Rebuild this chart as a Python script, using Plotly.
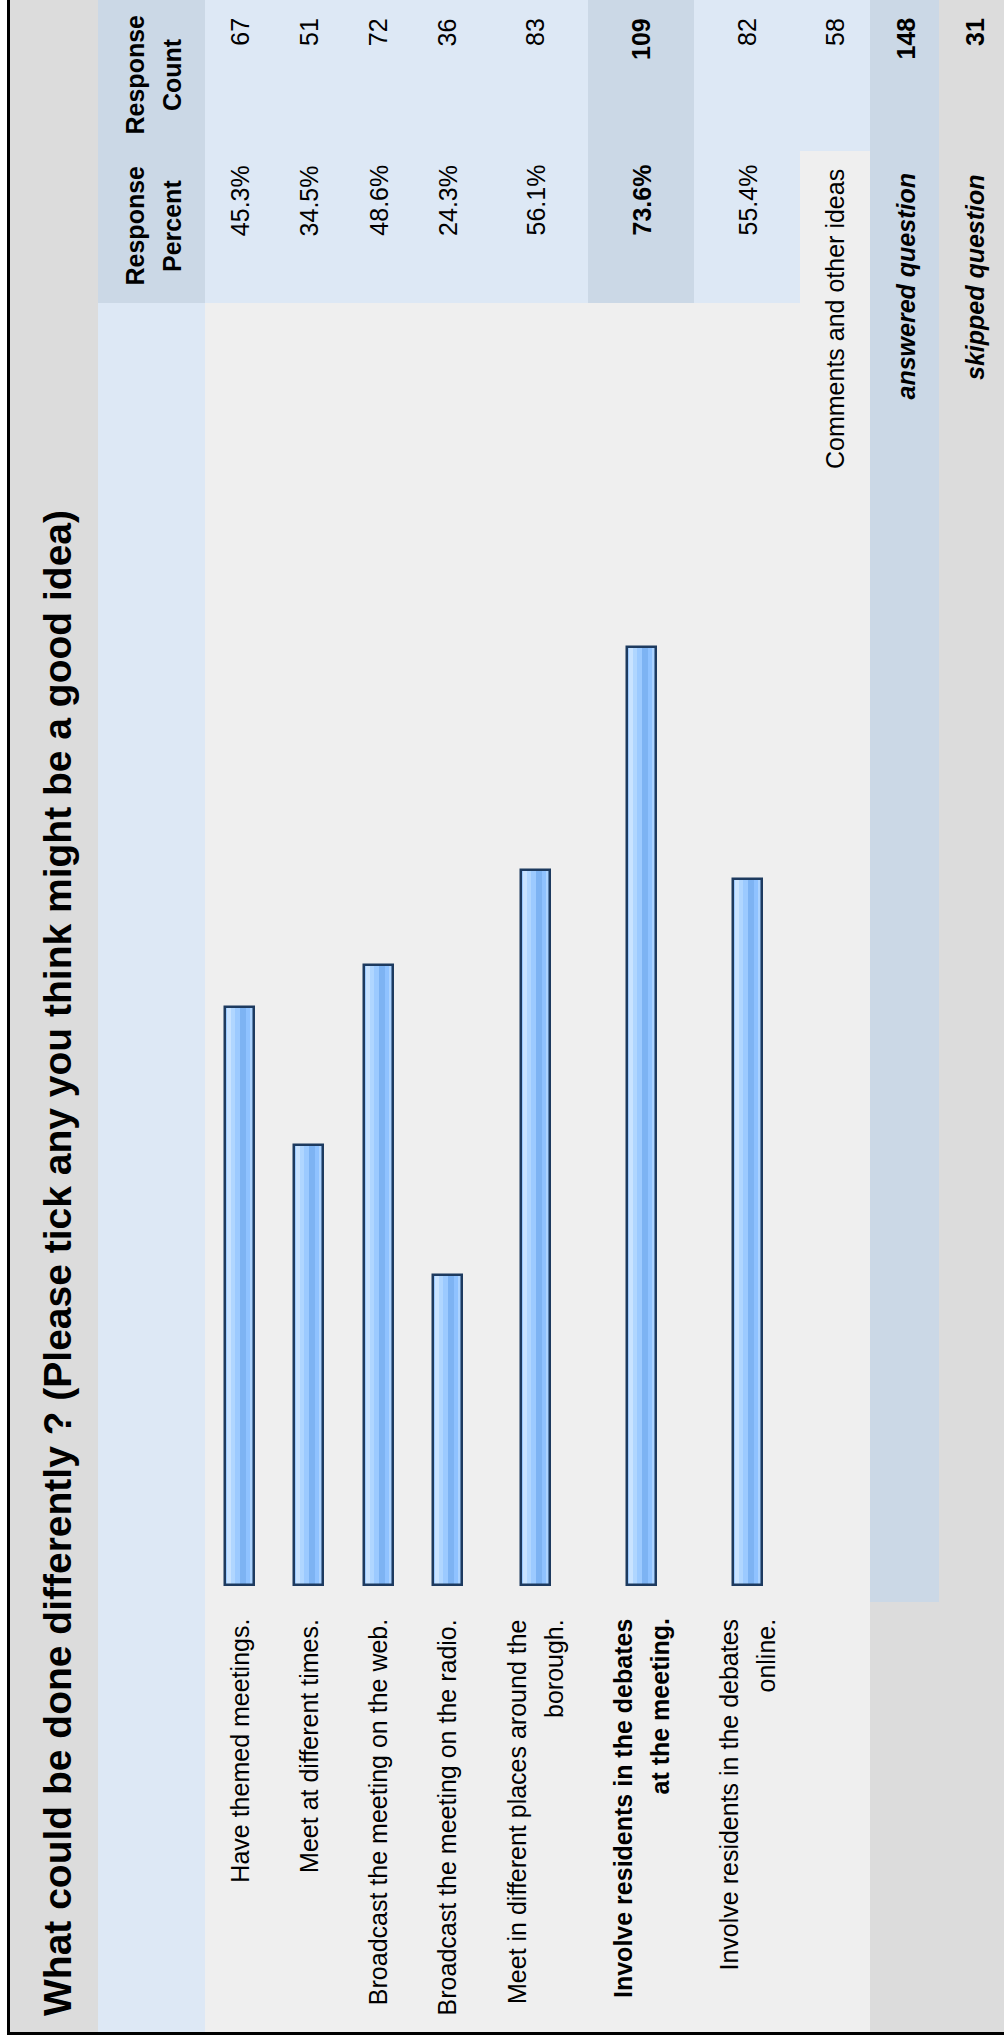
import plotly.graph_objects as go

# ---------------- data ----------------
question = "What could be done differently ? (Please tick any you think might be a good idea)"
answer_lines = [
    ["Have themed meetings."],
    ["Meet at different times."],
    ["Broadcast the meeting on the web."],
    ["Broadcast the meeting on the radio."],
    ["Meet in different places around the", "borough."],
    ["Involve residents in the debates", "at the meeting."],
    ["Involve residents in the debates", "online."],
]
percents = [45.3, 34.5, 48.6, 24.3, 56.1, 73.6, 55.4]
counts = [67, 51, 72, 36, 83, 109, 82]
highlight = [False, False, False, False, False, True, False]
comments_label = "Comments and other ideas"
comments_count = 58
answered_label = "answered question"
answered_count = 148
skipped_label = "skipped question"
skipped_count = 31
header_percent = ["Response", "Percent"]
header_count = ["Response", "Count"]

# ---------------- layout geometry (pixels) ----------------
W, H = 1004, 2035
FONT = "Liberation Sans, Arial, Helvetica, sans-serif"
row_widths = [69.25, 69.25, 69.25, 69.25, 106, 106, 106]
x0_rows = 205
edges = [x0_rows]
for w in row_widths:
    edges.append(edges[-1] + w)
centers = [(edges[i] + edges[i + 1]) / 2 for i in range(len(row_widths))]
x_com = (edges[-1], edges[-1] + 70)
x_ans = (x_com[1], x_com[1] + 69)
x_skp = (x_ans[1], W + 5)
base_px = 1585.0
px_per_pct = 12.75
y_range = [(base_px - H) / px_per_pct, base_px / px_per_pct]

C_GRAY = "#dcdcdc"
C_LBLUE = "#dde8f5"
C_DBLUE = "#cbd8e6"
C_BODY = "#efefef"
NAVY = "#1d3a5f"

fig = go.Figure()

# bars: stripes emulate the gradient, last trace draws the outline
stripes = [
    (0, 29, "#9ccaff"),
    (2, 4, "#c9e3ff"),
    (6, 4, "#b0d6ff"),
    (15, 6, "#7db3f3"),
    (21, 4, "#8fc2ff"),
    (25, 2, "#acd3ff"),
]
for off, w, col in stripes:
    fig.add_trace(go.Bar(
        x=centers, y=percents, width=w, offset=off - 14.5,
        marker=dict(color=col, line=dict(width=0)),
        hoverinfo="skip", showlegend=False,
    ))
fig.add_trace(go.Bar(
    x=centers, y=percents, width=29, offset=-14.5,
    marker=dict(color="rgba(0,0,0,0)", line=dict(width=2.5, color=NAVY)),
    showlegend=False,
    hovertemplate="%{y}%<extra></extra>",
))

shapes = []
def rect(x0, x1, y0, y1, col):
    shapes.append(dict(type="rect", xref="x", yref="y2", x0=x0, x1=x1, y0=y0, y1=y1,
                       fillcolor=col, line=dict(width=0), layer="below"))

rect(10, 98, -5, 2032, C_GRAY)                     # title column
rect(98, 205, -5, 303, C_DBLUE)                    # header cells
rect(98, 205, 303, 2032, C_LBLUE)                  # label column strip
rect(205, x_com[0], -5, 303, C_LBLUE)              # value cells
for i, hl in enumerate(highlight):
    if hl:
        rect(edges[i], edges[i + 1], -5, 303, C_DBLUE)
rect(205, x_com[1], 303, 2032, C_BODY)             # body
rect(x_com[0], x_com[1], -5, 151, C_LBLUE)
rect(x_com[0], x_com[1], 151, 303, C_BODY)
rect(x_ans[0], x_ans[1], -5, 1602, C_DBLUE)
rect(x_ans[0], x_ans[1], 1602, 2032, C_GRAY)
rect(x_skp[0], x_skp[1], -5, 2032, C_GRAY)
# border
shapes.append(dict(type="line", xref="x", yref="y2", x0=8.5, x1=8.5, y0=-5, y1=2033.5,
                   line=dict(color="#000000", width=3)))
shapes.append(dict(type="line", xref="x", yref="y2", x0=7, x1=W + 5, y0=2033.5, y1=2033.5,
                   line=dict(color="#000000", width=3)))

ann = []
def txt(x, y, s, size=25, bold=False, italic=False, yanchor="middle"):
    if italic:
        s = "<i>" + s + "</i>"
    if bold:
        s = "<b>" + s + "</b>"
    ann.append(dict(x=x, y=y, xref="x", yref="y2", text=s, showarrow=False,
                    textangle=-90, xanchor="center", yanchor=yanchor, borderpad=0,
                    font=dict(family=FONT, size=size, color="#000000")))

# title
txt(57, 2017, question, size=39, bold=True, yanchor="bottom")
# headers
txt(134.5, 226, header_percent[0], bold=True)
txt(172, 226, header_percent[1], bold=True)
txt(134.5, 75, header_count[0], bold=True)
txt(172, 75, header_count[1], bold=True)

LS = 37
for i, lines in enumerate(answer_lines):
    n = len(lines)
    for j, line in enumerate(lines):
        xc = centers[i] + (j - (n - 1) / 2) * LS
        txt(xc, 1618, line, bold=highlight[i], yanchor="top")
    txt(centers[i], 237, f"{percents[i]:.1f}%", bold=highlight[i], yanchor="bottom")
    txt(centers[i], 17, str(counts[i]), bold=highlight[i], yanchor="top")

xc = (x_com[0] + x_com[1]) / 2
txt(xc, 168, comments_label, yanchor="top")
txt(xc, 17, str(comments_count), yanchor="top")
xa = (x_ans[0] + x_ans[1]) / 2 + 1
txt(xa, 173, answered_label, bold=True, italic=True, yanchor="top")
txt(xa, 17, str(answered_count), bold=True, yanchor="top")
xs = 975
txt(xs, 173, skipped_label, bold=True, italic=True, yanchor="top")
txt(xs, 17, str(skipped_count), bold=True, yanchor="top")

fig.update_layout(
    width=W, height=H,
    margin=dict(l=0, r=0, t=0, b=0),
    paper_bgcolor="#ffffff", plot_bgcolor="#ffffff",
    barmode="overlay", bargap=0,
    showlegend=False,
    xaxis=dict(range=[0, W], visible=False, fixedrange=True),
    yaxis=dict(range=y_range, visible=False, fixedrange=True),
    yaxis2=dict(range=[H, 0], overlaying="y", visible=False, fixedrange=True),
    shapes=shapes,
    annotations=ann,
)
# an invisible trace so yaxis2 exists
fig.add_trace(go.Scatter(x=[0], y=[0], yaxis="y2", mode="markers",
                         marker=dict(opacity=0), hoverinfo="skip", showlegend=False))

fig.write_html("out.html", config={"displayModeBar": False},
               post_script="document.body.style.margin='0';")
